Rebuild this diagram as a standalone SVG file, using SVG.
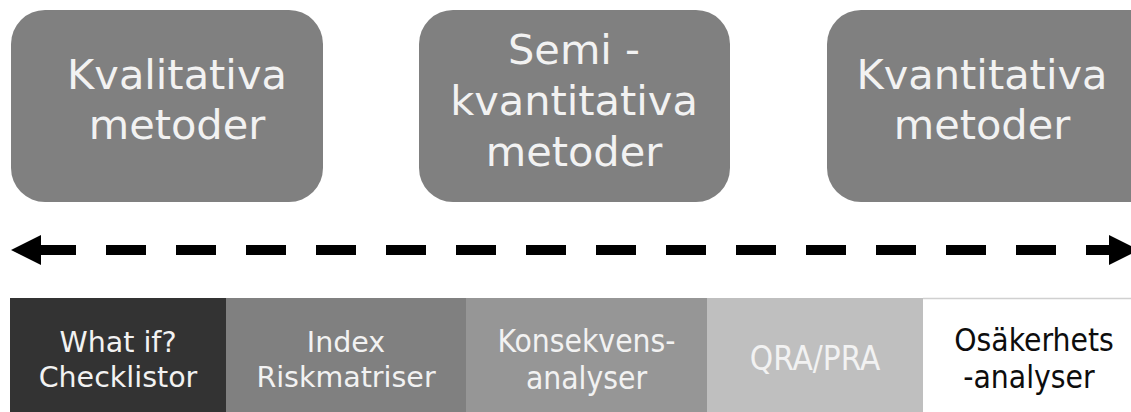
<svg xmlns="http://www.w3.org/2000/svg" width="1131" height="412" viewBox="0 0 1131 412">
<style>
.box{fill:#808080}
.big{font-family:"DejaVu Sans","Verdana",sans-serif;font-size:41.5px;fill:#f2f2f2;text-anchor:middle}
.sm{font-family:"DejaVu Sans","Verdana",sans-serif;font-size:28.5px;text-anchor:middle}
.cn{font-family:"DejaVu Sans Condensed","DejaVu Sans",sans-serif;font-size:31.5px;text-anchor:middle}
.lt{fill:#f2f2f2}
.dk{fill:#0d0d0d}
</style>
<rect width="1131" height="412" fill="#ffffff"/>
<g id="node-kvalitativa">
<rect class="box" x="11" y="10" width="312" height="192" rx="34"/>
<text class="big"><tspan x="177" y="89">Kvalitativa</tspan><tspan x="177" y="139">metoder</tspan></text>
</g>
<g id="node-semi">
<rect class="box" x="419" y="10" width="311" height="192" rx="34"/>
<text class="big"><tspan x="574" y="64">Semi -</tspan><tspan x="574" y="115">kvantitativa</tspan><tspan x="574" y="166">metoder</tspan></text>
</g>
<g id="node-kvantitativa">
<rect class="box" x="827" y="10" width="340" height="192" rx="34"/>
<text class="big"><tspan x="982" y="89">Kvantitativa</tspan><tspan x="982" y="139">metoder</tspan></text>
</g>
<g id="connectors">
<line x1="36" y1="250" x2="1109" y2="250" stroke="#000" stroke-width="10" stroke-dasharray="40 30"/>
<polygon points="11,250 41,235 41,265" fill="#000"/>
<polygon points="1139,250 1109,235 1109,265" fill="#000"/>
</g>
<g id="cell-whatif">
<rect x="10" y="298" width="216" height="114" fill="#333333"/>
<text class="sm lt"><tspan x="118" y="352">What if?</tspan><tspan x="118" y="387">Checklistor</tspan></text>
</g>
<g id="cell-index">
<rect x="226" y="298" width="240" height="114" fill="#808080"/>
<text class="sm lt"><tspan x="346" y="352">Index</tspan><tspan x="346" y="387">Riskmatriser</tspan></text>
</g>
<g id="cell-konsekvens">
<rect x="466" y="298" width="241" height="114" fill="#969696"/>
<text class="cn lt"><tspan x="586.5" y="352">Konsekvens-</tspan><tspan x="586.5" y="389">analyser</tspan></text>
</g>
<g id="cell-qra">
<rect x="707" y="298" width="216" height="114" fill="#bfbfbf"/>
<text class="cn lt" style="font-size:33px"><tspan x="815" y="370">QRA/PRA</tspan></text>
</g>
<g id="cell-osakerhets">
<rect x="923" y="298" width="208" height="114" fill="#ffffff"/>
<line x1="923" y1="298.5" x2="1131" y2="298.5" stroke="#d0d0d0" stroke-width="1.5"/>
<text class="cn dk"><tspan x="1034" y="351">Osäkerhets</tspan><tspan x="1029" y="388">-analyser</tspan></text>
</g>
</svg>
